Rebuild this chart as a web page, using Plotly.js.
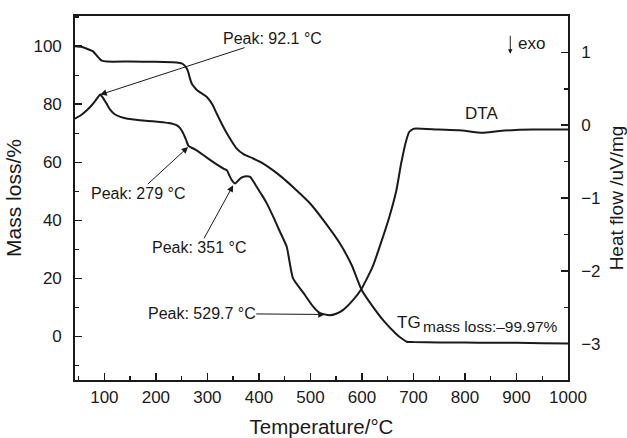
<!DOCTYPE html>
<html>
<head>
<meta charset="utf-8">
<script src="https://cdn.plot.ly/plotly-3.0.1.min.js"></script>
<style>html,body{margin:0;padding:0;background:#fff;}#chart{width:627px;height:438px;}</style>
</head>
<body>
<div id="chart"></div>
<script>
// TG curve (mass loss, left axis)
const tgTemp = [43, 55, 65, 72, 78, 85, 90, 95, 105, 150, 200, 240, 250, 256, 260, 263, 266, 270, 275, 280, 290, 299, 310, 318, 328, 338, 348, 357, 370, 388, 410, 427, 445, 466, 499, 528, 557, 580, 599, 619, 644, 667, 678, 687, 700, 750, 800, 850, 900, 950, 1000];
const tgMass = [100.0, 99.8, 99.2, 98.7, 98.2, 96.8, 95.8, 95.0, 94.7, 94.7, 94.6, 94.4, 94.1, 93.3, 92.3, 91.0, 89.0, 87.0, 85.8, 84.8, 83.6, 82.5, 79.8, 76.8, 73.2, 69.9, 67.0, 64.7, 62.8, 61.4, 59.4, 57.3, 54.8, 51.5, 45.9, 39.4, 32.1, 24.6, 16.2, 10.8, 5.0, 0.8, -0.8, -1.8, -1.95, -2.05, -2.1, -2.15, -2.2, -2.3, -2.4];

// DTA curve (heat flow, right axis)
const dtaTemp = [43, 55, 66, 75, 82, 88, 92, 97, 104, 112, 120, 131, 145, 157, 180, 208, 225, 240, 247, 253, 258, 263, 267, 275, 292, 310, 325, 332, 338, 342, 347, 354, 360, 366, 375, 383, 390, 396, 405, 415, 428, 440, 454, 466, 486, 505, 518, 537, 550, 563, 583, 599, 621, 641, 654, 667, 676, 686, 692, 700, 705, 750, 789, 834, 867, 931, 1000];
const dtaFlow = [0.09, 0.14, 0.205, 0.27, 0.33, 0.39, 0.42, 0.38, 0.30, 0.206, 0.15, 0.114, 0.09, 0.078, 0.06, 0.045, 0.03, 0.0, -0.04, -0.11, -0.19, -0.28, -0.30, -0.33, -0.41, -0.50, -0.57, -0.60, -0.62, -0.68, -0.75, -0.80, -0.76, -0.72, -0.70, -0.71, -0.78, -0.85, -0.95, -1.07, -1.26, -1.45, -1.67, -2.10, -2.30, -2.49, -2.58, -2.61, -2.59, -2.54, -2.40, -2.25, -1.94, -1.53, -1.24, -0.89, -0.53, -0.21, -0.09, -0.05, -0.045, -0.06, -0.07, -0.105, -0.08, -0.06, -0.06];

// Peak annotations
const peakLabels = ['Peak: 92.1 °C', 'Peak: 279 °C', 'Peak: 351 °C', 'Peak: 529.7 °C'];
const peakArrowT = [92, 262.5, 350, 527.8];
const peakArrowFlow = [0.42, -0.30, -0.826, -2.6];
const peakOffX = [172, -50, -34, -123];
const peakOffY = [-56, 46, 62, -1];

const xTicks = [100, 200, 300, 400, 500, 600, 700, 800, 900, 1000];
const yLeftTicks = [0, 20, 40, 60, 80, 100];
const yRightTicks = [-3, -2, -1, 0, 1];

const FONT = '"Liberation Sans", Arial, Helvetica, sans-serif';
const INK = '#1a1a1a';

const traces = [
  {x: tgTemp, y: tgMass, type: 'scatter', mode: 'lines', yaxis: 'y',
   line: {color: INK, width: 2, shape: 'spline', smoothing: 0.5}, showlegend: false, hoverinfo: 'skip'},
  {x: dtaTemp, y: dtaFlow, type: 'scatter', mode: 'lines', yaxis: 'y2',
   line: {color: INK, width: 2, shape: 'spline', smoothing: 0.5}, showlegend: false, hoverinfo: 'skip'}
];

const annotations = peakLabels.map((t, i) => ({
  x: peakArrowT[i], y: peakArrowFlow[i], xref: 'x', yref: 'y2',
  text: t, showarrow: true, ax: peakOffX[i], ay: peakOffY[i],
  arrowhead: 2, arrowsize: 1.3, arrowwidth: 1, arrowcolor: INK,
  font: {family: FONT, size: 16, color: INK}, borderpad: 0
}));
annotations.push(
  {x: 0.8829, y: 0.8963, xref: 'paper', yref: 'paper', text: ' ', showarrow: true,
   ax: 0, ay: -19, arrowhead: 2, arrowsize: 0.9, arrowwidth: 1, arrowcolor: INK,
   font: {size: 1}, borderpad: 0},
  {x: 0.926, y: 0.925, xref: 'paper', yref: 'paper', text: 'exo', showarrow: false,
   xanchor: 'center', yanchor: 'middle', font: {family: FONT, size: 17, color: INK}},
  {x: 0.824, y: 0.732, xref: 'paper', yref: 'paper', text: 'DTA', showarrow: false,
   xanchor: 'center', yanchor: 'middle', font: {family: FONT, size: 17, color: INK}},
  {x: 0.6484, y: 0.157, xref: 'paper', yref: 'paper', text: 'TG', showarrow: false,
   xanchor: 'left', yanchor: 'middle', font: {family: FONT, size: 17, color: INK}},
  {x: 0.701, y: 0.148, xref: 'paper', yref: 'paper', text: 'mass loss:–99.97%', showarrow: false,
   xanchor: 'left', yanchor: 'middle', font: {family: FONT, size: 15.5, color: INK}}
);

const layout = {
  width: 627, height: 438,
  margin: {l: 75, r: 58.5, t: 15.5, b: 58, pad: 0},
  paper_bgcolor: '#fff', plot_bgcolor: '#fff',
  font: {family: FONT, color: INK},
  xaxis: {
    range: [43, 1000], tickvals: xTicks, ticktext: xTicks.map(String),
    ticks: 'inside', ticklen: 7, tickwidth: 1.6, tickcolor: INK,
    minor: {dtick: 50, tick0: 0, ticks: 'inside', ticklen: 4, tickwidth: 1.4, tickcolor: INK},
    showline: true, linewidth: 1.8, linecolor: INK, mirror: true,
    showgrid: false, zeroline: false, ticklabelstandoff: 1,
    tickfont: {family: FONT, size: 17, color: INK},
    title: {text: 'Temperature/°C', font: {family: FONT, size: 20.5, color: INK}, standoff: 14},
    automargin: false
  },
  yaxis: {
    range: [-15, 110.4], tickvals: yLeftTicks, ticktext: yLeftTicks.map(String),
    ticks: 'inside', ticklen: 7, tickwidth: 1.6, tickcolor: INK,
    minor: {dtick: 10, tick0: 0, ticks: 'inside', ticklen: 4, tickwidth: 1.4, tickcolor: INK},
    showline: true, linewidth: 1.8, linecolor: INK,
    showgrid: false, zeroline: false, ticklabelstandoff: 8,
    tickfont: {family: FONT, size: 17, color: INK},
    title: {text: 'Mass loss/%', font: {family: FONT, size: 21, color: INK}, standoff: 6},
    automargin: false
  },
  yaxis2: {
    range: [-3.5, 1.5], overlaying: 'y', side: 'right',
    tickvals: yRightTicks, ticktext: yRightTicks.map(v => v < 0 ? '−' + Math.abs(v) : String(v)),
    ticks: 'inside', ticklen: 7, tickwidth: 1.6, tickcolor: INK,
    minor: {dtick: 0.5, tick0: 0, ticks: 'inside', ticklen: 4, tickwidth: 1.4, tickcolor: INK},
    showline: true, linewidth: 1.8, linecolor: INK,
    showgrid: false, zeroline: false, ticklabelstandoff: 8,
    tickfont: {family: FONT, size: 17, color: INK},
    title: {text: 'Heat flow /uV/mg', font: {family: FONT, size: 19, color: INK}, standoff: 12},
    automargin: false
  },
  annotations: annotations,
  showlegend: false
};

Plotly.newPlot('chart', traces, layout, {staticPlot: true, displayModeBar: false});
</script>
</body>
</html>
